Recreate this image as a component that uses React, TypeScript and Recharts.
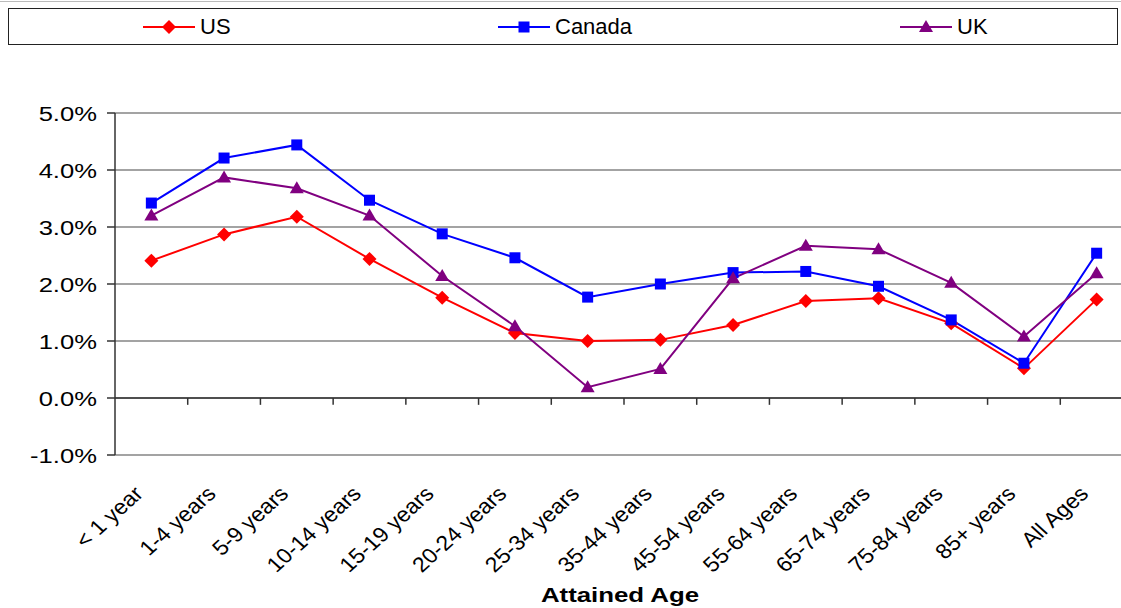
import React from 'react';
import { LineChart, Line, XAxis, YAxis, CartesianGrid, ReferenceLine } from 'recharts';

const categories = [
  '< 1 year', '1-4 years', '5-9 years', '10-14 years', '15-19 years', '20-24 years', '25-34 years',
  '35-44 years', '45-54 years', '55-64 years', '65-74 years', '75-84 years', '85+ years', 'All Ages',
];
const usValues = [2.41, 2.87, 3.18, 2.44, 1.76, 1.14, 1.0, 1.02, 1.28, 1.7, 1.75, 1.31, 0.52, 1.73];
const canadaValues = [3.42, 4.21, 4.44, 3.47, 2.88, 2.46, 1.77, 2.0, 2.2, 2.22, 1.96, 1.37, 0.61, 2.54];
const ukValues = [3.2, 3.87, 3.68, 3.2, 2.14, 1.26, 0.19, 0.51, 2.1, 2.67, 2.61, 2.02, 1.08, 2.19];
const yTicks = [-1, 0, 1, 2, 3, 4, 5];

const data = categories.map((name, i) => ({
  idx: i,
  name,
  US: usValues[i],
  Canada: canadaValues[i],
  UK: ukValues[i],
}));

// boundaries between categories, where the small tick marks sit on the 0% line
const boundaries = categories.slice(1).map((_, i) => i + 0.5);

const FONT = '"Liberation Sans", Arial, sans-serif';

const diamond = (p: any) => (
  <path
    key={`us-${p.index}`}
    d={`M${p.cx},${p.cy - 7}L${p.cx + 7},${p.cy}L${p.cx},${p.cy + 7}L${p.cx - 7},${p.cy}Z`}
    fill="#ff0000"
  />
);
const square = (p: any) => (
  <rect key={`ca-${p.index}`} x={p.cx - 5.5} y={p.cy - 5.5} width={11} height={11} fill="#0000ff" />
);
const triangle = (p: any) => (
  <path
    key={`uk-${p.index}`}
    d={`M${p.cx},${p.cy - 7}L${p.cx + 7},${p.cy + 5}L${p.cx - 7},${p.cy + 5}Z`}
    fill="#800080"
  />
);

const YTick = ({ x, y, payload }: any) => (
  <text
    x={0}
    y={0}
    transform={`translate(${x},${y + 8}) scale(1.28,1)`}
    textAnchor="end"
    fontFamily={FONT}
    fontSize={20}
    fill="#000"
  >
    {payload.value.toFixed(1)}%
  </text>
);

const XTick = ({ x, y, payload }: any) => (
  <text
    x={0}
    y={0}
    transform={`translate(${x - 7},${y + 40}) scale(1.1,1) rotate(-45)`}
    textAnchor="end"
    fontFamily={FONT}
    fontSize={21}
    fill="#000"
  >
    {categories[payload.value]}
  </text>
);

const AxisTitle = ({ viewBox }: any) => (
  <text
    x={0}
    y={0}
    transform={`translate(${viewBox.x + viewBox.width / 2 - 4},${viewBox.y + viewBox.height - 6}) scale(1.23,1)`}
    textAnchor="middle"
    fontFamily={FONT}
    fontSize={21}
    fontWeight="bold"
    fill="#000"
  >
    Attained Age
  </text>
);

const legendItems = [
  { label: 'US', color: '#ff0000', shape: 'diamond', left: 143 },
  { label: 'Canada', color: '#0000ff', shape: 'square', left: 498 },
  { label: 'UK', color: '#800080', shape: 'triangle', left: 900 },
];

function LegendBox() {
  return (
    <div
      style={{
        position: 'absolute',
        left: 8,
        top: 8,
        width: 1108,
        height: 35,
        border: '1.5px solid #222',
        fontFamily: FONT,
        fontSize: 22,
      }}
    >
      {legendItems.map((it) => (
        <div
          key={it.label}
          style={{ position: 'absolute', left: it.left - 9, top: 0, height: 35, display: 'flex', alignItems: 'center' }}
        >
          <svg width={52} height={16} style={{ display: 'block' }}>
            <line x1={0} y1={8} x2={52} y2={8} stroke={it.color} strokeWidth={2} />
            {it.shape === 'diamond' && <path d="M26,1L33,8L26,15L19,8Z" fill={it.color} />}
            {it.shape === 'square' && <rect x={20.5} y={2.5} width={11} height={11} fill={it.color} />}
            {it.shape === 'triangle' && <path d="M26,1L33,13L19,13Z" fill={it.color} />}
          </svg>
          <span style={{ marginLeft: 5, color: '#000' }}>{it.label}</span>
        </div>
      ))}
    </div>
  );
}

export default function App() {
  return (
    <div style={{ position: 'absolute', left: 0, top: 0, width: 1121, height: 608, overflow: 'hidden', background: '#fff' }}>
      <div style={{ position: 'absolute', left: 0, top: 1, width: 1121, borderTop: '1px solid #bbb' }} />
      <LegendBox />
      <div style={{ position: 'absolute', left: 0, top: 0 }}>
        <LineChart width={1140} height={608} data={data} margin={{ top: 113, right: 7, left: 0, bottom: 0 }}>
          <CartesianGrid vertical={false} stroke="#858585" strokeWidth={1.5} />
          <XAxis
            dataKey="idx"
            type="number"
            domain={[-0.5, 13.5]}
            ticks={categories.map((_, i) => i)}
            interval={0}
            axisLine={false}
            tickLine={false}
            tickSize={0}
            tickMargin={0}
            height={153}
            tick={<XTick />}
            label={{ content: <AxisTitle /> } as any}
          />
          <YAxis
            type="number"
            domain={[-1, 5]}
            ticks={yTicks}
            interval={0}
            width={115}
            axisLine={{ stroke: '#333', strokeWidth: 1.5 }}
            tickLine={{ stroke: '#333', strokeWidth: 1.5 }}
            tickSize={8}
            tickMargin={10}
            tick={<YTick />}
          />
          <ReferenceLine y={0} stroke="#333" strokeWidth={1.5} />
          {boundaries.map((b) => (
            <ReferenceLine
              key={b}
              segment={[{ x: b, y: 0 }, { x: b, y: -0.12 }]}
              stroke="#333"
              strokeWidth={1.5}
            />
          ))}
          <Line dataKey="US" stroke="#ff0000" strokeWidth={2} dot={diamond} activeDot={false} isAnimationActive={false} />
          <Line dataKey="Canada" stroke="#0000ff" strokeWidth={2} dot={square} activeDot={false} isAnimationActive={false} />
          <Line dataKey="UK" stroke="#800080" strokeWidth={2} dot={triangle} activeDot={false} isAnimationActive={false} />
        </LineChart>
      </div>
    </div>
  );
}
